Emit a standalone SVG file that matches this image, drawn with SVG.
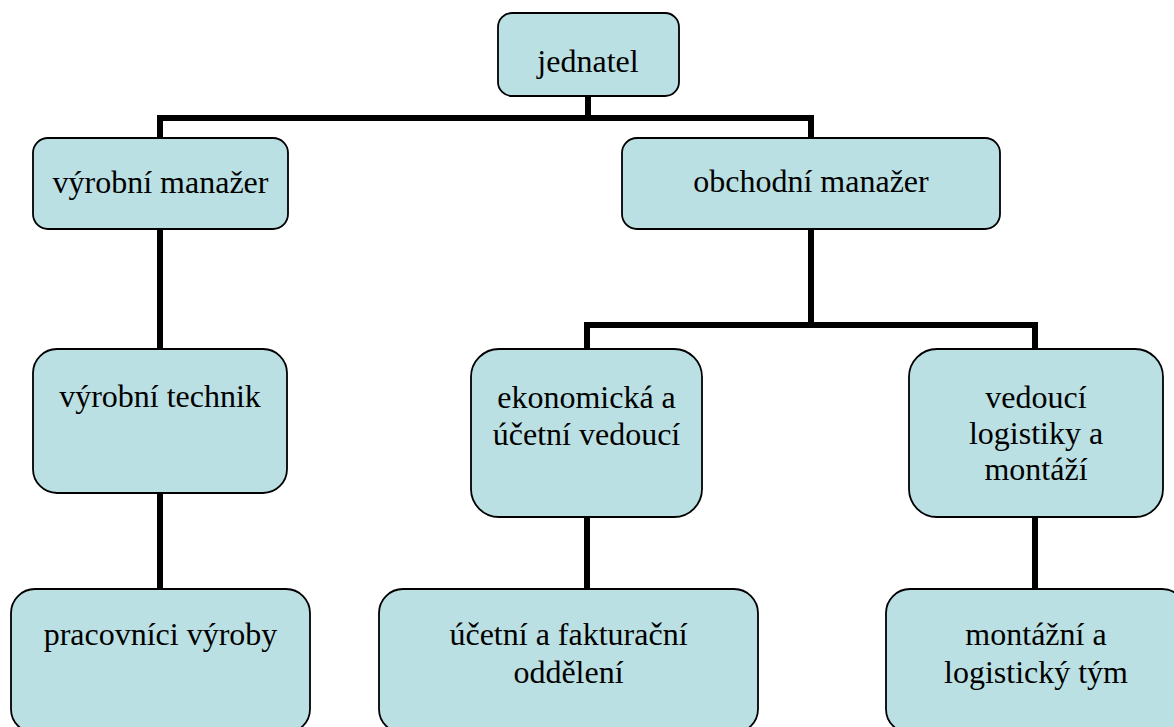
<svg xmlns="http://www.w3.org/2000/svg" width="1174" height="727" viewBox="0 0 1174 727">
<style>
.box{fill:#BBE0E3;stroke:#000;stroke-width:1.8}
.t{font-family:'Liberation Serif','Times New Roman','DejaVu Serif',serif;font-size:32px;fill:#000;text-anchor:middle}
.c{fill:none;stroke:#000;stroke-width:6;stroke-linejoin:miter;stroke-linecap:butt}
</style>
<rect width="1174" height="727" fill="#fff"/>
<g id="connectors">
<path class="c" d="M588 96V118M157 118H814M160 115V138M811 118V138"/>
<path class="c" d="M160 229V349M160 493V589"/>
<path class="c" d="M811 229V325M584 325H1038M587 322V349M1035 322V349"/>
<path class="c" d="M587 517V589M1035 517V589"/>
</g>
<g id="n-jednatel">
<rect class="box" x="498" y="13" width="181" height="83" rx="14"/>
<text class="t" x="588" y="72" font-family="Liberation Serif, serif">jednatel</text>
</g>
<g id="n-vyrobni-manazer">
<rect class="box" x="33" y="138" width="255" height="91" rx="15"/>
<text class="t" x="160.5" y="193">výrobní manažer</text>
</g>
<g id="n-obchodni-manazer">
<rect class="box" x="622" y="138" width="378" height="91" rx="15"/>
<text class="t" x="811" y="192">obchodní manažer</text>
</g>
<g id="n-vyrobni-technik">
<rect class="box" x="33" y="349" width="254" height="144" rx="24"/>
<text class="t" x="160" y="407">výrobní technik</text>
</g>
<g id="n-ekonomicka">
<rect class="box" x="471" y="349" width="231" height="168" rx="28"/>
<text class="t" x="586.5" y="408">ekonomická a</text>
<text class="t" x="586.5" y="445">účetní vedoucí</text>
</g>
<g id="n-vedouci-logistiky">
<rect class="box" x="909" y="349" width="254" height="168" rx="28"/>
<text class="t" x="1036" y="408">vedoucí</text>
<text class="t" x="1036" y="444">logistiky a</text>
<text class="t" x="1036" y="480">montáží</text>
</g>
<g id="n-pracovnici">
<rect class="box" x="11" y="589" width="299" height="144" rx="24"/>
<text class="t" x="160.5" y="645">pracovníci výroby</text>
</g>
<g id="n-uctovani">
<rect class="box" x="379" y="589" width="379" height="144" rx="24"/>
<text class="t" x="568.5" y="645">účetní a fakturační</text>
<text class="t" x="568.5" y="683">oddělení</text>
</g>
<g id="n-montazni">
<rect class="box" x="886" y="589" width="300" height="144" rx="24"/>
<text class="t" x="1036" y="645">montážní a</text>
<text class="t" x="1036" y="683">logistický tým</text>
</g>
</svg>
